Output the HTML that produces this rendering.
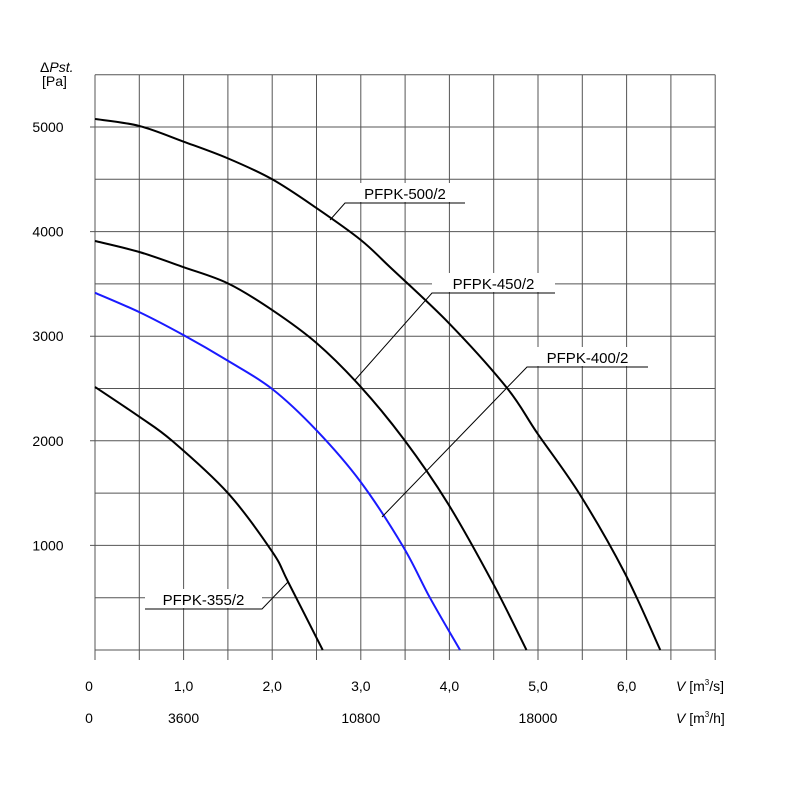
<!DOCTYPE html>
<html><head><meta charset="utf-8"><style>body{margin:0;background:#fff}svg{display:block;font-family:"Liberation Sans",sans-serif}</style></head>
<body>
<svg width="800" height="800" viewBox="0 0 800 800">
<g id="grid"></g>
<g id="curves"></g>
<g id="labels"></g>
<text x="40" y="72" font-size="14">Δ<tspan font-style="italic">Pst.</tspan></text>
<text x="42" y="86" font-size="14">[Pa]</text>
<text x="676" y="691" font-size="14"><tspan font-style="italic">V</tspan> [m<tspan font-size="8" dy="-6">3</tspan><tspan dy="6">/s]</tspan></text>
<text x="676" y="723" font-size="14"><tspan font-style="italic">V</tspan> [m<tspan font-size="8" dy="-6">3</tspan><tspan dy="6">/h]</tspan></text>
</svg>
<script>
const yTicks=[1000,2000,3000,4000,5000];
const xTicksS=[0,1,2,3,4,5,6];
const xTickLabelsS=["0","1,0","2,0","3,0","4,0","5,0","6,0"];
const xTicksH=[0,3600,10800,18000];
const names=["PFPK-500/2","PFPK-450/2","PFPK-400/2","PFPK-355/2"];
const colors=["#000","#000","#1a1aff","#000"];
const flowX=[
[0,0.5,1,1.5,2,2.5,3,3.33,4.0,4.65,4.99,5.47,5.98,6.38],
[0,0.5,1,1.5,2,2.5,3,3.49,3.98,4.49,4.87],
[0,0.5,1,1.5,2,2.5,3,3.48,3.78,4.12],
[0,0.5,0.87,1.5,2,2.18,2.57]];
const presY=[
[5077,5010,4860,4700,4500,4225,3920,3660,3120,2505,2075,1490,735,0],
[3910,3805,3660,3505,3250,2935,2515,2010,1405,640,0],
[3415,3230,3010,2765,2495,2100,1605,985,500,0],
[2515,2230,2000,1500,940,650,0]];
const X=v=>95+v*88.6, Y=p=>650-p*0.1046;
const NS="http://www.w3.org/2000/svg";
function mk(t,a,p){const e=document.createElementNS(NS,t);for(const k in a)e.setAttribute(k,a[k]);p.appendChild(e);return e;}
const g=document.getElementById('grid');
for(let i=0;i<=14;i++){const x=X(i*0.5);
 const l=mk('line',{x1:x,x2:x,y1:Y(5500),y2:660,stroke:'#555','stroke-width':1},g);
 
 }
for(let i=0;i<=11;i++){const y=Y(i*500);
 const l=mk('line',{x1:i%2==0&&i>0?90:95,x2:X(7),y1:y,y2:y,stroke:'#555','stroke-width':1},g);
 
 }
yTicks.forEach(v=>{const t=mk('text',{x:48,y:Y(v)+5,'font-size':14,'text-anchor':'middle'},g);t.textContent=v;
 
 });
xTicksS.forEach((v,i)=>{const t=mk('text',{x:i==0?89:X(v),y:691,'font-size':14,'text-anchor':'middle'},g);t.textContent=xTickLabelsS[i];
 
 });
xTicksH.forEach(v=>{const t=mk('text',{x:v==0?89:X(v/3600),y:723,'font-size':14,'text-anchor':'middle'},g);t.textContent=v;
 
 });
const c=document.getElementById('curves');
function smooth(pts){let d=`M${pts[0][0]},${pts[0][1]}`;for(let i=0;i<pts.length-1;i++){const p0=pts[i-1]||pts[i],p1=pts[i],p2=pts[i+1],p3=pts[i+2]||p2;
 d+=` C${p1[0]+(p2[0]-p0[0])/6},${p1[1]+(p2[1]-p0[1])/6} ${p2[0]-(p3[0]-p1[0])/6},${p2[1]-(p3[1]-p1[1])/6} ${p2[0]},${p2[1]}`;}return d;}
flowX.forEach((xs,k)=>{const pts=xs.map((v,i)=>[X(v),Y(presY[k][i])]);
 const p=mk('path',{d:smooth(pts),fill:'none',stroke:colors[k],'stroke-width':2},c);
 
 });
const lb=document.getElementById('labels');
const lab=[[345,465,203,330,220],[432,555,293,355,380],[527,648,367,382,517],[145,262,609,288,582]];
lab.forEach((a,k)=>{const [x1,x2,y,lx,ly]=a;
 const r=mk('rect',{x:x1,y:y-20,width:x2-x1,height:19,fill:'#fff'},lb);
 
 
 const ln=mk('polyline',{points:k==3?`${x1},${y} ${x2},${y} ${lx},${ly}`:`${lx},${ly} ${x1},${y} ${x2},${y}`,fill:'none',stroke:'#000','stroke-width':1},lb);
 
 
 const t=mk('text',{x:(x1+x2)/2,y:y-4,'font-size':15,'text-anchor':'middle'},lb);t.textContent=names[k];
 
 });
</script>
</body></html>
